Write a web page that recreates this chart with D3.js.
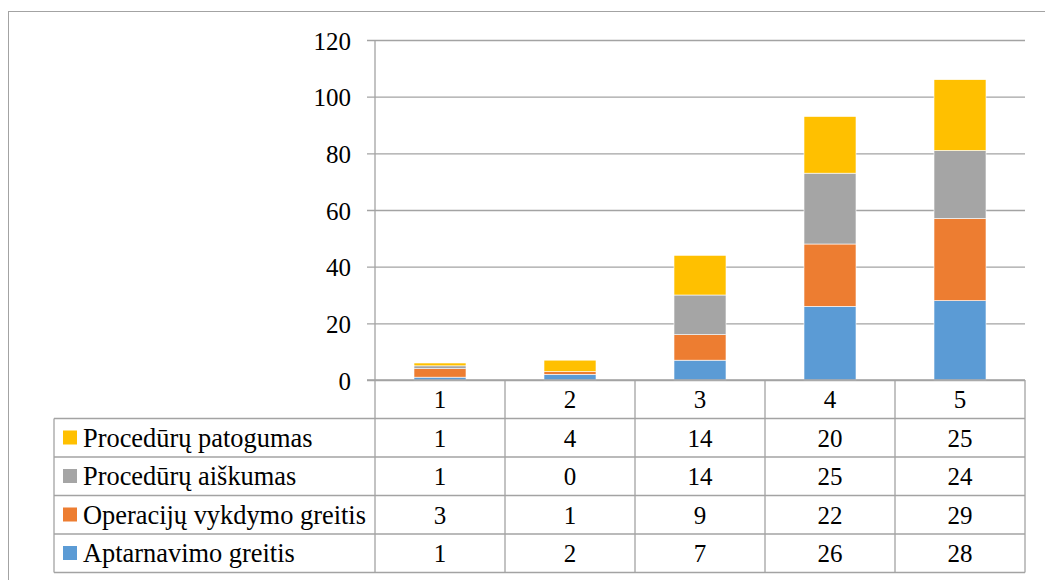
<!DOCTYPE html>
<html><head><meta charset="utf-8"><script src="https://cdn.jsdelivr.net/npm/d3@7"></script></head>
<body style="margin:0">
<svg id="chart" width="1045" height="580" style="display:block;font-family:'Liberation Serif'"></svg>
<script>
const categories = ["1", "2", "3", "4", "5"];
const seriesNames = ["Aptarnavimo greitis", "Operacijų vykdymo greitis", "Procedūrų aiškumas", "Procedūrų patogumas"];
const aptarnavimo = [1, 2, 7, 26, 28];
const operaciju = [3, 1, 9, 22, 29];
const aiskumas = [1, 0, 14, 25, 24];
const patogumas = [1, 4, 14, 20, 25];
const seriesColors = ["#5B9BD5", "#ED7D31", "#A5A5A5", "#FFC000"];
const yTicks = [0, 20, 40, 60, 80, 100, 120];

const seriesValues = [aptarnavimo, operaciju, aiskumas, patogumas];
const rows = categories.map((c, i) => {
  const r = { cat: c };
  seriesNames.forEach((s, k) => r[s] = seriesValues[k][i]);
  return r;
});

const FONT = '"Liberation Serif"';
const svg = d3.select("#chart");
const gridColor = "#a3a3a3";
const plotL = 375, plotR = 1025, plotT = 40, plotB = 380;
const tableL = 54;
const rowH = 38.5;
const fontSize = 25;
const legendFont = 26.4;

svg.append("rect").attr("x", 8.5).attr("y", 11.5).attr("width", 1100).attr("height", 700)
  .attr("fill", "none").attr("stroke", gridColor).attr("stroke-width", 1);

const x = d3.scaleBand().domain(categories).range([plotL, plotR]).paddingInner(0.6).paddingOuter(0.3);
const xCol = d3.scaleBand().domain(categories).range([plotL, plotR]).padding(0);
const y = d3.scaleLinear().domain([0, 120]).range([plotB, plotT]);

const yAxis = d3.axisLeft(y).tickValues(yTicks).tickSize(-(plotR - plotL)).tickPadding(24).tickFormat(d3.format("d"));
const gy = svg.append("g").attr("transform", `translate(${plotL},0)`).call(yAxis);
gy.attr("font-family", "Liberation Serif").attr("font-size", fontSize);
gy.select(".domain").remove();
gy.selectAll(".tick line").attr("stroke", gridColor).attr("stroke-width", 1.3).attr("x1", -8);
gy.selectAll(".tick text").attr("font-size", fontSize).attr("font-family", "Liberation Serif")
  .style("font-family", FONT).attr("fill", "#000").attr("dy", "0.36em");

svg.append("line").attr("x1", plotL).attr("x2", plotL).attr("y1", plotT).attr("y2", plotB + 5 * rowH)
  .attr("stroke", gridColor).attr("stroke-width", 1.3);

const stacked = d3.stack().keys(seriesNames)(rows);
svg.append("g").selectAll("g").data(stacked).join("g")
  .attr("fill", (d, i) => seriesColors[i])
  .selectAll("rect").data(d => d).join("rect")
  .attr("x", d => x(d.data.cat))
  .attr("width", x.bandwidth())
  .attr("y", d => y(d[1]))
  .attr("height", d => Math.max(0, y(d[0]) - y(d[1])))
  .attr("stroke", "#fff").attr("stroke-width", 0.6);

svg.append("line").attr("x1", plotL - 8).attr("x2", plotR).attr("y1", y(0)).attr("y2", y(0))
  .attr("stroke", gridColor).attr("stroke-width", 1.3);

const tableBottom = plotB + 5 * rowH;
categories.forEach(c => {
  const xr = xCol(c) + xCol.bandwidth();
  svg.append("line").attr("x1", xr).attr("x2", xr).attr("y1", plotB).attr("y2", tableBottom)
    .attr("stroke", gridColor).attr("stroke-width", 1.3);
});
for (let r = 1; r <= 5; r++) {
  svg.append("line").attr("x1", tableL).attr("x2", plotR).attr("y1", plotB + r * rowH).attr("y2", plotB + r * rowH)
    .attr("stroke", gridColor).attr("stroke-width", 1.3);
}
svg.append("line").attr("x1", tableL).attr("x2", tableL).attr("y1", plotB + rowH).attr("y2", tableBottom)
  .attr("stroke", gridColor).attr("stroke-width", 1.3);

categories.forEach(c => {
  svg.append("text").attr("x", xCol(c) + xCol.bandwidth() / 2).attr("y", plotB + 28)
    .attr("text-anchor", "middle").attr("font-size", fontSize).style("font-family", FONT).text(c);
});

const order = [3, 2, 1, 0];
order.forEach((k, ri) => {
  const top = plotB + (ri + 1) * rowH;
  svg.append("rect").attr("x", 63).attr("y", top + 12).attr("width", 14).attr("height", 14)
    .attr("fill", seriesColors[k]);
  svg.append("text").attr("x", 83).attr("y", top + 28).attr("font-size", legendFont)
    .style("font-family", FONT).text(seriesNames[k]);
  categories.forEach((c, i) => {
    svg.append("text").attr("x", xCol(c) + xCol.bandwidth() / 2).attr("y", top + 28)
      .attr("text-anchor", "middle").attr("font-size", fontSize).style("font-family", FONT)
      .text(seriesValues[k][i]);
  });
});
</script>
</body>
</html>
